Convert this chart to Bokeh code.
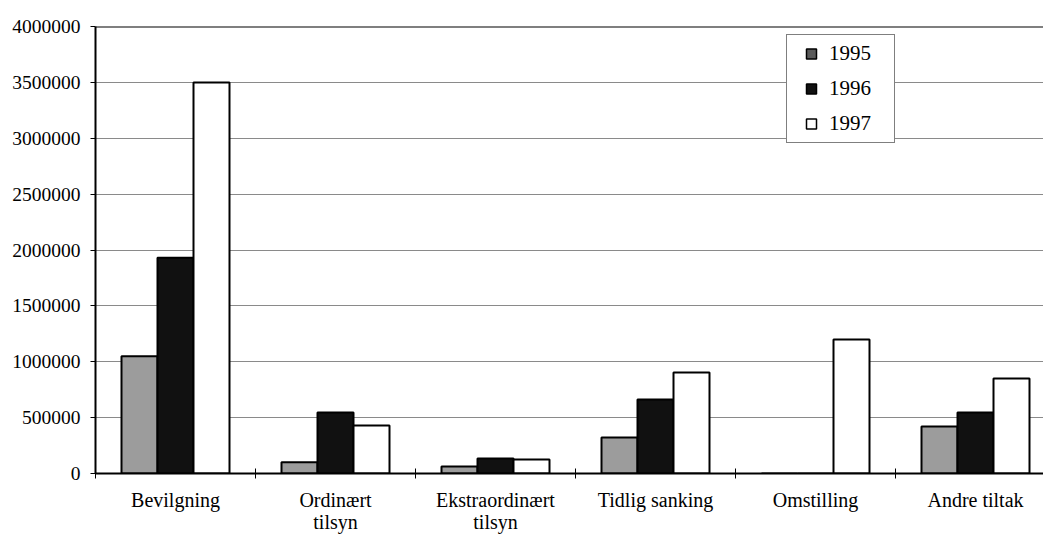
from bokeh.plotting import figure
from bokeh.models import ColumnDataSource, Range1d, FixedTicker, BasicTickFormatter, Span
from bokeh.embed import file_html
from bokeh.resources import INLINE

categories = ["Bevilgning", "Ordinært\ntilsyn", "Ekstraordinært\ntilsyn",
              "Tidlig sanking", "Omstilling", "Andre tiltak"]
years = ["1995", "1996", "1997"]
v1995 = [1050000, 100000, 63000, 322000, 0, 420000]
v1996 = [1930000, 545000, 134000, 662000, 0, 546000]
v1997 = [3500000, 430000, 125000, 904000, 1200000, 850000]
y_ticks = [0, 500000, 1000000, 1500000, 2000000, 2500000, 3000000, 3500000, 4000000]

series = [v1995, v1996, v1997]
fills = ["#9c9c9c", "#111111", "#ffffff"]
legend_fills = ["#5a5a5a", "#111111", "#ffffff"]
offsets = [-0.225, 0.0, 0.225]
bar_w = 0.225

FONT = "Liberation Serif"

p = figure(width=1043, height=535, output_backend="svg", toolbar_location=None,
           x_range=Range1d(0, 5.925), y_range=Range1d(0, 4000000),
           min_border_left=95, min_border_right=0, min_border_top=26, min_border_bottom=62)
p.outline_line_color = None

centers = [i + 0.5 for i in range(len(categories))]
for vals, col, off in zip(series, fills, offsets):
    src = ColumnDataSource(dict(x=[c + off for c in centers], top=vals))
    p.vbar(x="x", top="top", width=bar_w, source=src, fill_color=col,
           line_color="black", line_width=2)

# legend proxies (square swatches, nothing drawn in the plot)
for col, yr in zip(legend_fills, years):
    p.scatter(x=[float("nan")], y=[float("nan")], marker="square", fill_color=col,
              line_color="black", line_width=1.5, legend_label=yr)

p.add_layout(Span(location=4000000, dimension="width", line_color="black", line_width=2))

# x axis
p.xaxis.ticker = FixedTicker(ticks=centers, minor_ticks=list(range(len(categories) + 1)))
p.xaxis.major_label_overrides = {c: lab for c, lab in zip(centers, categories)}
p.xaxis.major_tick_line_color = None
p.xaxis.minor_tick_in = 5
p.xaxis.minor_tick_out = 5
p.xaxis.minor_tick_line_color = "black"
p.xaxis.axis_line_color = "black"
p.xaxis.axis_line_width = 2
p.xaxis.major_label_text_font = FONT
p.xaxis.major_label_text_font_size = "20px"
p.xaxis.major_label_text_line_height = 1.0
p.xaxis.major_label_text_color = "black"
p.xaxis.major_label_standoff = 9

# y axis
p.yaxis.ticker = FixedTicker(ticks=y_ticks)
p.yaxis.formatter = BasicTickFormatter(use_scientific=False)
p.yaxis.minor_tick_line_color = None
p.yaxis.major_tick_in = 0
p.yaxis.major_tick_out = 5
p.yaxis.major_tick_line_color = "black"
p.yaxis.axis_line_color = "black"
p.yaxis.axis_line_width = 2
p.yaxis.major_label_text_font = FONT
p.yaxis.major_label_text_font_size = "19.5px"
p.yaxis.major_label_text_color = "black"
p.yaxis.major_label_standoff = 10

p.xgrid.grid_line_color = None
p.ygrid.grid_line_color = "#8a8a8a"
p.ygrid.grid_line_width = 1

lg = p.legend[0]
lg.location = (691, 330)
lg.label_text_font = FONT
lg.label_text_font_size = "21px"
lg.label_text_color = "black"
lg.glyph_width = 36
lg.glyph_height = 25
lg.label_standoff = 0
lg.label_width = 59
lg.padding = 6
lg.spacing = 10
lg.margin = 0
lg.border_line_color = "black"
lg.border_line_width = 1
lg.background_fill_alpha = 1

open("out.html", "w").write(file_html(p, INLINE))
